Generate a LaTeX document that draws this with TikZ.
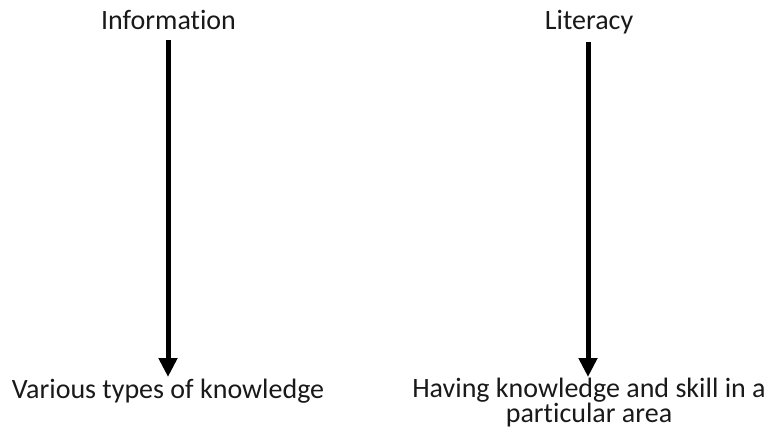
\documentclass[tikz,border=0pt]{standalone}
\usepackage{fontspec}
\setmainfont{Carlito}[Ligatures=NoCommon]
\usetikzlibrary{arrows.meta}
\tikzset{
  lbl/.style={anchor=base, inner sep=0pt, font=\fontsize{28}{24}\selectfont, text=black!90, align=center},
  arr/.style={line width=5pt, -{Triangle[width=18pt,length=19pt]}}
}
\begin{document}
\begin{tikzpicture}[x=1pt,y=-1pt]
\useasboundingbox (0,0) rectangle (767,430);
\node[lbl] (info) at (168.5,30) {Information};
\node[lbl] (lit) at (589,30) {Literacy};
\node[lbl] (var) at (168,398) {Various types of knowledge};
\node[lbl, anchor=north] (hav) at (589,378) {Having knowledge and skill in a\\particular area};
\coordinate (a1s) at (168,40);
\coordinate (a1e) at (168,377);
\coordinate (a2s) at (588,42);
\coordinate (a2e) at (588,377);
\draw[arr] (a1s) -- (a1e);
\draw[arr] (a2s) -- (a2e);
\end{tikzpicture}
\end{document}
